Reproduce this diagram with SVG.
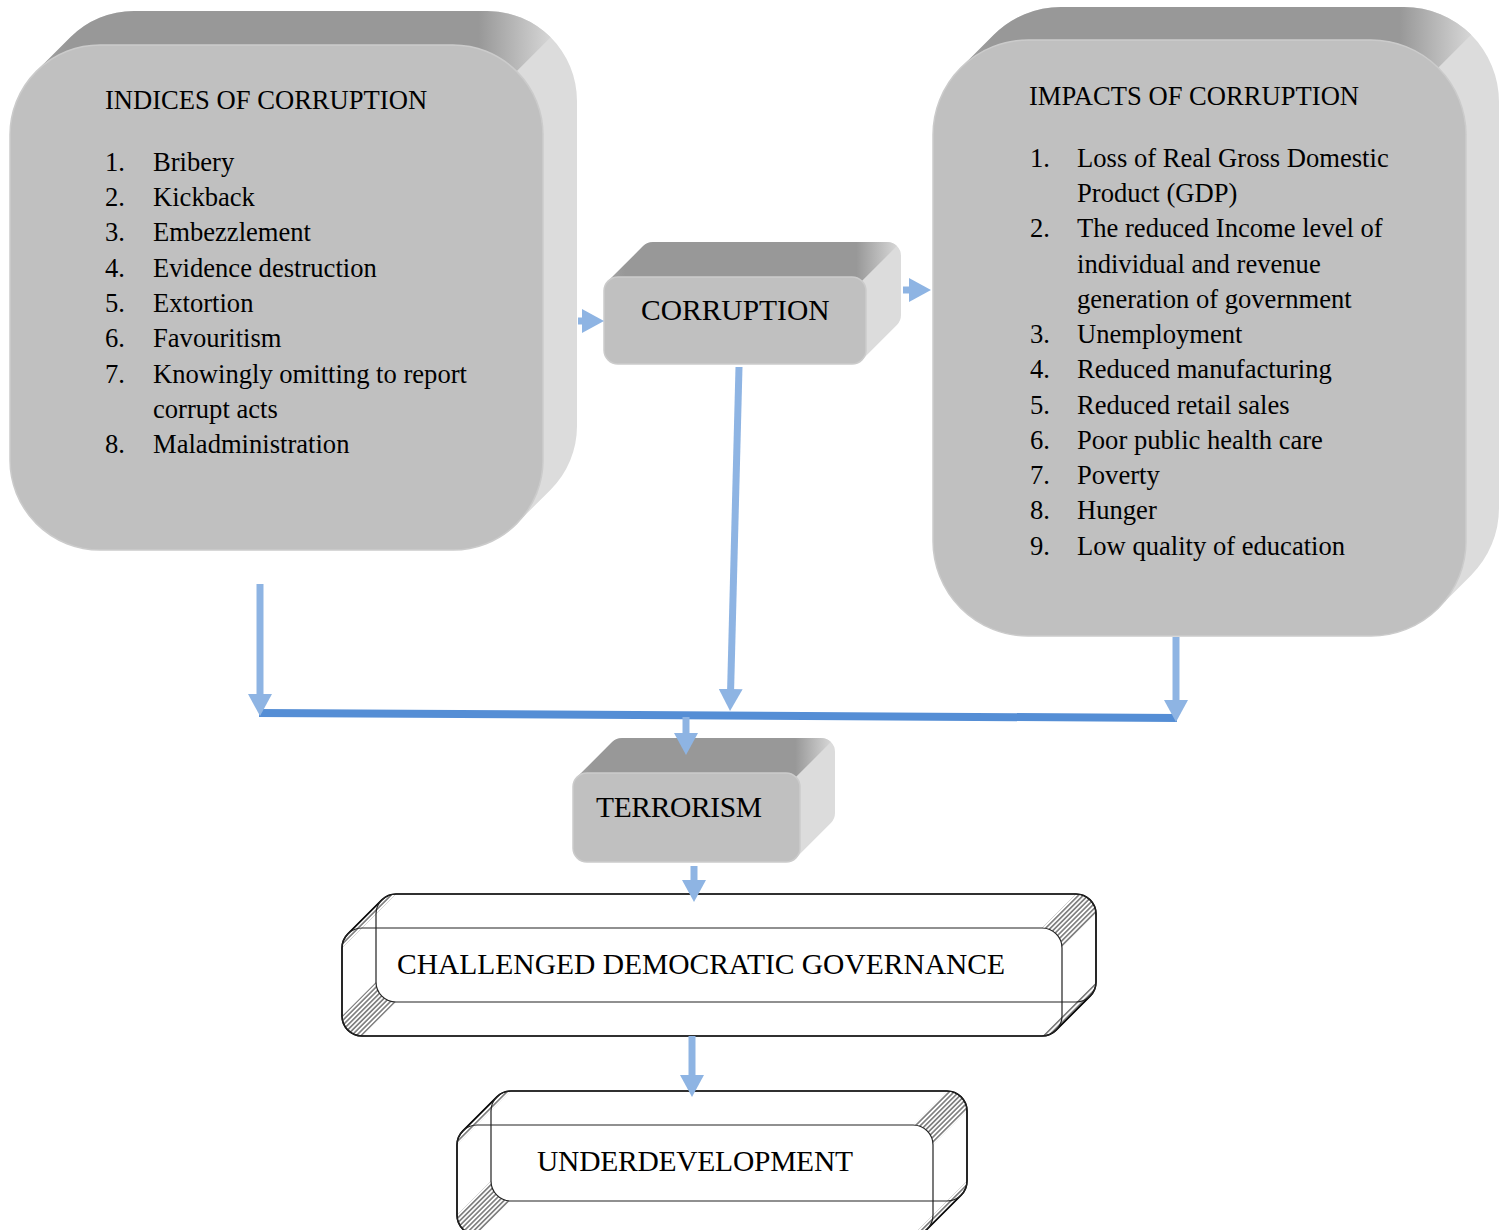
<svg xmlns="http://www.w3.org/2000/svg" width="1499" height="1230" viewBox="0 0 1499 1230">
<style>
.side{fill:#dcdcdc}
.top{fill:url(#topGrad)}
.front{fill:#c0c0c0;stroke:#cbcbcb;stroke-width:1.5}
.hull{fill:#fff;stroke:#000;stroke-width:1.6}
.wire{fill:none;stroke:#222;stroke-width:1.2}
.hatch{fill:url(#hatch);stroke:none}
text{font-family:"Liberation Serif","Times New Roman",serif;fill:#000}
.t{font-size:26.6px}
.big{font-size:29.5px}
.conn line{stroke:#8eb4e3;stroke-width:7}
</style>
<defs>
<linearGradient id="topGrad" x1="0" y1="0" x2="1" y2="0">
<stop offset="0" stop-color="#a2a2a2"/>
<stop offset="0.06" stop-color="#989898"/>
<stop offset="0.86" stop-color="#989898"/>
<stop offset="1" stop-color="#d6d6d6"/>
</linearGradient>
<pattern id="hatch" width="3.4" height="3.4" patternUnits="userSpaceOnUse" patternTransform="rotate(-45)">
<line x1="0" y1="1.7" x2="3.4" y2="1.7" stroke="#111" stroke-width="0.9"/>
</pattern>
<marker id="ah" markerUnits="userSpaceOnUse" markerWidth="22" markerHeight="24" viewBox="0 0 22 24" refX="1" refY="12" orient="auto">
<path d="M0,0 L22,12 L0,24 Z" fill="#8eb4e3"/>
</marker>
</defs>

<g id="indices">
<path class="side" d="M36.36,71.36 L70.36,37.36 A90,90 0 0 1 134,11 L487,11 A90,90 0 0 1 577,101 L577,426 A90,90 0 0 1 550.64,489.64 L516.64,523.64 A90,90 0 0 1 453,550 L100,550 A90,90 0 0 1 10,460 L10,135 A90,90 0 0 1 36.36,71.36 Z"/>
<path class="top" d="M36.36,71.36 L70.36,37.36 A90,90 0 0 1 134,11 L487,11 A90,90 0 0 1 550.64,37.36 L516.64,71.36 A90,90 0 0 0 453,45 L100,45 A90,90 0 0 0 36.36,71.36 Z"/>
<rect class="front" x="10" y="45" width="533" height="505" rx="90"/>
<text class="t" x="105" y="109">INDICES OF CORRUPTION</text>
<text class="t" x="105" y="171">1.</text><text class="t" x="153" y="171">Bribery</text>
<text class="t" x="105" y="206">2.</text><text class="t" x="153" y="206">Kickback</text>
<text class="t" x="105" y="241">3.</text><text class="t" x="153" y="241">Embezzlement</text>
<text class="t" x="105" y="277">4.</text><text class="t" x="153" y="277">Evidence destruction</text>
<text class="t" x="105" y="312">5.</text><text class="t" x="153" y="312">Extortion</text>
<text class="t" x="105" y="347">6.</text><text class="t" x="153" y="347">Favouritism</text>
<text class="t" x="105" y="383">7.</text><text class="t" x="153" y="383">Knowingly omitting to report</text>
<text class="t" x="153" y="418">corrupt acts</text>
<text class="t" x="105" y="453">8.</text><text class="t" x="153" y="453">Maladministration</text>
</g>

<g id="impacts">
<path class="side" d="M960.82,67.82 L993.82,34.82 A95,95 0 0 1 1061,7 L1404,7 A95,95 0 0 1 1499,102 L1499,508 A95,95 0 0 1 1471.18,575.18 L1438.18,608.18 A95,95 0 0 1 1371,636 L1028,636 A95,95 0 0 1 933,541 L933,135 A95,95 0 0 1 960.82,67.82 Z"/>
<path class="top" d="M960.82,67.82 L993.82,34.82 A95,95 0 0 1 1061,7 L1404,7 A95,95 0 0 1 1471.18,34.82 L1438.18,67.82 A95,95 0 0 0 1371,40 L1028,40 A95,95 0 0 0 960.82,67.82 Z"/>
<rect class="front" x="933" y="40" width="533" height="596" rx="95"/>
<text class="t" x="1029" y="105">IMPACTS OF CORRUPTION</text>
<text class="t" x="1030" y="167">1.</text><text class="t" x="1077" y="167">Loss of Real Gross Domestic</text>
<text class="t" x="1077" y="202">Product (GDP)</text>
<text class="t" x="1030" y="237">2.</text><text class="t" x="1077" y="237">The reduced Income level of</text>
<text class="t" x="1077" y="273">individual and revenue</text>
<text class="t" x="1077" y="308">generation of government</text>
<text class="t" x="1030" y="343">3.</text><text class="t" x="1077" y="343">Unemployment</text>
<text class="t" x="1030" y="378">4.</text><text class="t" x="1077" y="378">Reduced manufacturing</text>
<text class="t" x="1030" y="414">5.</text><text class="t" x="1077" y="414">Reduced retail sales</text>
<text class="t" x="1030" y="449">6.</text><text class="t" x="1077" y="449">Poor public health care</text>
<text class="t" x="1030" y="484">7.</text><text class="t" x="1077" y="484">Poverty</text>
<text class="t" x="1030" y="519">8.</text><text class="t" x="1077" y="519">Hunger</text>
<text class="t" x="1030" y="555">9.</text><text class="t" x="1077" y="555">Low quality of education</text>
</g>

<g id="corruption">
<path class="side" d="M608.1,281.1 L643.1,246.1 A14,14 0 0 1 653,242 L887,242 A14,14 0 0 1 901,256 L901,315 A14,14 0 0 1 896.9,324.9 L861.9,359.9 A14,14 0 0 1 852,364 L618,364 A14,14 0 0 1 604,350 L604,291 A14,14 0 0 1 608.1,281.1 Z"/>
<path class="top" d="M608.1,281.1 L643.1,246.1 A14,14 0 0 1 653,242 L887,242 A14,14 0 0 1 896.9,246.1 L861.9,281.1 A14,14 0 0 0 852,277 L618,277 A14,14 0 0 0 608.1,281.1 Z"/>
<rect class="front" x="604" y="277" width="262" height="87" rx="14"/>
<text class="big" x="641" y="320">CORRUPTION</text>
</g>

<g id="terrorism">
<path class="side" d="M577.1,777.1 L612.1,742.1 A14,14 0 0 1 622,738 L821,738 A14,14 0 0 1 835,752 L835,813 A14,14 0 0 1 830.9,822.9 L795.9,857.9 A14,14 0 0 1 786,862 L587,862 A14,14 0 0 1 573,848 L573,787 A14,14 0 0 1 577.1,777.1 Z"/>
<path class="top" d="M577.1,777.1 L612.1,742.1 A14,14 0 0 1 622,738 L821,738 A14,14 0 0 1 830.9,742.1 L795.9,777.1 A14,14 0 0 0 786,773 L587,773 A14,14 0 0 0 577.1,777.1 Z"/>
<rect class="front" x="573" y="773" width="227" height="89" rx="14"/>
<text class="big" x="596" y="817" textLength="166">TERRORISM</text>
</g>

<g id="challenged">
<path class="hull" d="M347.86,933.86 L381.86,899.86 A20,20 0 0 1 396,894 L1076,894 A20,20 0 0 1 1096,914 L1096,982 A20,20 0 0 1 1090.14,996.14 L1056.14,1030.14 A20,20 0 0 1 1042,1036 L362,1036 A20,20 0 0 1 342,1016 L342,948 A20,20 0 0 1 347.86,933.86 Z"/>
<path class="hatch" d="M342,948 A20,20 0 0 1 347.86,933.86 L381.86,899.86 A20,20 0 0 1 396,894 Z"/>
<path class="hatch" d="M1042,928 A20,20 0 0 1 1062,948 L1096,914 A20,20 0 0 0 1076,894 Z"/>
<path class="hatch" d="M1042,1036 A20,20 0 0 0 1056.14,1030.14 L1090.14,996.14 A20,20 0 0 0 1096,982 Z"/>
<path class="hatch" d="M342,1016 A20,20 0 0 0 362,1036 L396,1002 A20,20 0 0 1 376,982 Z"/>
<rect class="wire" x="376" y="894" width="720" height="108" rx="20"/>
<rect class="wire" x="342" y="928" width="720" height="108" rx="20"/>
<text class="big" x="397" y="974" textLength="608">CHALLENGED DEMOCRATIC GOVERNANCE</text>
</g>

<g id="underdevelopment">
<path class="hull" d="M462.86,1130.86 L496.86,1096.86 A20,20 0 0 1 511,1091 L947,1091 A20,20 0 0 1 967,1111 L967,1181 A20,20 0 0 1 961.14,1195.14 L927.14,1229.14 A20,20 0 0 1 913,1235 L477,1235 A20,20 0 0 1 457,1215 L457,1145 A20,20 0 0 1 462.86,1130.86 Z"/>
<path class="hatch" d="M457,1145 A20,20 0 0 1 462.86,1130.86 L496.86,1096.86 A20,20 0 0 1 511,1091 Z"/>
<path class="hatch" d="M913,1125 A20,20 0 0 1 933,1145 L967,1111 A20,20 0 0 0 947,1091 Z"/>
<path class="hatch" d="M913,1235 A20,20 0 0 0 927.14,1229.14 L961.14,1195.14 A20,20 0 0 0 967,1181 Z"/>
<path class="hatch" d="M457,1215 A20,20 0 0 0 477,1235 L511,1201 A20,20 0 0 1 491,1181 Z"/>
<rect class="wire" x="491" y="1091" width="476" height="110" rx="20"/>
<rect class="wire" x="457" y="1125" width="476" height="110" rx="20"/>
<text class="big" x="537" y="1171" textLength="316">UNDERDEVELOPMENT</text>
</g>

<g id="connectors" class="conn">
<polygon points="259,709 1177,714 1177,722 259,717" fill="#558ed5"/>
<line x1="578" y1="321" x2="583" y2="321" marker-end="url(#ah)"/>
<line x1="903" y1="290" x2="910" y2="290" marker-end="url(#ah)"/>
<line x1="260" y1="584" x2="260" y2="695" marker-end="url(#ah)"/>
<line x1="739" y1="367" x2="730.6" y2="690" marker-end="url(#ah)"/>
<line x1="1176" y1="637" x2="1176" y2="701" marker-end="url(#ah)"/>
<line x1="686" y1="717" x2="686" y2="734" marker-end="url(#ah)"/>
<line x1="694" y1="866" x2="694" y2="881" marker-end="url(#ah)"/>
<line x1="692" y1="1036" x2="692" y2="1076" marker-end="url(#ah)"/>
</g>
</svg>
